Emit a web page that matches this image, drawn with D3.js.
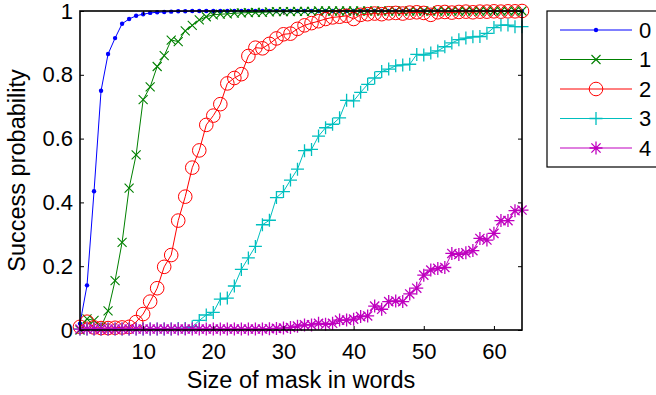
<!DOCTYPE html>
<html>
<head>
<meta charset="utf-8">
<script src="https://cdn.jsdelivr.net/npm/d3@7"></script>
<style>
  body { margin: 0; background: #fff; }
  svg { display: block; font-family: "Liberation Sans", Arial, sans-serif; }
</style>
</head>
<body>
<svg id="chart" width="656" height="395"></svg>
<script>
// mask sizes on the x axis
const maskSizes = d3.range(1, 65);

const seriesNames = ["0", "1", "2", "3", "4"];

const s0 = [0.02, 0.14, 0.435, 0.75, 0.865, 0.915, 0.96, 0.975, 0.985, 0.99,
  0.994, 0.996, 0.997, 0.998, 0.999, 0.999, 1, 1, 1, 1,
  1, 1, 1, 1, 1, 1, 1, 1, 1, 1,
  1, 1, 1, 1, 1, 1, 1, 1, 1, 1,
  1, 1, 1, 1, 1, 1, 1, 1, 1, 1,
  1, 1, 1, 1, 1, 1, 1, 1, 1, 1,
  1, 1, 1, 1];

const s1 = [0.0, 0.035, 0.03, 0.01, 0.06, 0.155, 0.275, 0.445, 0.549, 0.722,
  0.762, 0.826, 0.86, 0.909, 0.904, 0.938, 0.955, 0.972, 0.982, 0.988,
  0.99, 0.991, 0.993, 0.994, 0.995, 0.996, 0.996, 0.997, 0.998, 0.998,
  0.998, 0.999, 0.999, 0.999, 1, 1, 1, 1, 1, 1,
  1, 1, 1, 1, 1, 1, 1, 1, 1, 1,
  1, 1, 1, 1, 1, 1, 1, 1, 1, 1,
  1, 1, 1, 1];

const s2 = [0.01, 0.026, 0.008, 0.006, 0.006, 0.007, 0.008, 0.01, 0.025, 0.05,
  0.089, 0.131, 0.198, 0.235, 0.343, 0.418, 0.509, 0.563, 0.643, 0.672,
  0.708, 0.773, 0.79, 0.802, 0.859, 0.885, 0.883, 0.897, 0.914, 0.927,
  0.929, 0.944, 0.955, 0.962, 0.968, 0.975, 0.98, 0.982, 0.985, 0.975,
  0.988, 0.99, 0.992, 0.99, 0.993, 0.994, 0.992, 0.995, 0.996, 0.994,
  0.988, 0.996, 0.997, 0.995, 0.997, 0.998, 0.996, 0.998, 0.998, 0.999,
  0.998, 0.999, 0.999, 1];

const s3 = [0.003, 0.003, 0.003, 0.003, 0.003, 0.003, 0.003, 0.003, 0.003, 0.003,
  0.003, 0.003, 0.003, 0.003, 0.005, 0.005, 0.01, 0.03, 0.047, 0.055,
  0.097, 0.1, 0.138, 0.19, 0.226, 0.262, 0.33, 0.344, 0.415, 0.434,
  0.47, 0.504, 0.562, 0.566, 0.608, 0.634, 0.645, 0.665, 0.72, 0.718,
  0.745, 0.77, 0.79, 0.81, 0.818, 0.828, 0.831, 0.833, 0.864, 0.862,
  0.868, 0.875, 0.888, 0.9, 0.91, 0.915, 0.919, 0.92, 0.93, 0.948,
  0.956, 0.956, 0.951, 0.951];

const s4 = [0.003, 0.003, 0.003, 0.003, 0.003, 0.003, 0.003, 0.003, 0.003, 0.003,
  0.003, 0.003, 0.003, 0.003, 0.003, 0.003, 0.003, 0.003, 0.003, 0.003,
  0.003, 0.003, 0.003, 0.003, 0.003, 0.003, 0.003, 0.004, 0.005, 0.006,
  0.008, 0.012, 0.016, 0.016, 0.021, 0.018, 0.021, 0.031, 0.031, 0.034,
  0.042, 0.044, 0.075, 0.065, 0.089, 0.091, 0.089, 0.113, 0.131, 0.172,
  0.188, 0.193, 0.196, 0.24, 0.237, 0.242, 0.249, 0.287, 0.282, 0.303,
  0.343, 0.343, 0.374, 0.376];

const xTicks = [10, 20, 30, 40, 50, 60];
const yTicks = [0, 0.2, 0.4, 0.6, 0.8, 1];

const colors = ["#0000ff", "#008000", "#ff0000", "#00bfbf", "#bf00bf"];
const markers = ["dot", "x", "o", "+", "*"];
const allSeries = [s0, s1, s2, s3, s4];

const svg = d3.select("#chart");

const plotLeft = 80, plotRight = 522, plotTop = 11, plotBottom = 330;

const x = d3.scaleLinear().domain([1, 64]).range([plotLeft, plotRight]);
const y = d3.scaleLinear().domain([0, 1]).range([plotBottom, plotTop]);

// draws one marker of the given kind at 0,0 inside g
function drawMarker(g, kind, color) {
  if (kind === "dot") {
    g.append("circle").attr("r", 2.2).attr("fill", color);
  } else if (kind === "x") {
    const h = 4.5;
    g.append("path")
      .attr("d", `M${-h},${-h}L${h},${h}M${-h},${h}L${h},${-h}`)
      .attr("stroke", color).attr("stroke-width", 1.1).attr("fill", "none");
  } else if (kind === "o") {
    g.append("circle").attr("r", 6.8)
      .attr("stroke", color).attr("stroke-width", 1).attr("fill", "none");
  } else if (kind === "+") {
    const h = 6.5;
    g.append("path")
      .attr("d", `M${-h},0H${h}M0,${-h}V${h}`)
      .attr("stroke", color).attr("stroke-width", 1.3).attr("fill", "none");
  } else if (kind === "*") {
    const h = 6.5, d = 4.6;
    g.append("path")
      .attr("d", `M${-h},0H${h}M0,${-h}V${h}M${-d},${-d}L${d},${d}M${-d},${d}L${d},${-d}`)
      .attr("stroke", color).attr("stroke-width", 1.3).attr("fill", "none");
  }
}

const line = d3.line()
  .x((d, i) => x(maskSizes[i]))
  .y(d => y(d));

// series lines and markers
allSeries.forEach((vals, k) => {
  const g = svg.append("g");
  g.append("path")
    .datum(vals)
    .attr("d", line)
    .attr("fill", "none")
    .attr("stroke", colors[k])
    .attr("stroke-width", 1);

  g.selectAll("g.m")
    .data(vals)
    .enter()
    .append("g")
    .attr("class", "m")
    .attr("transform", (d, i) => `translate(${x(maskSizes[i])},${y(d)})`)
    .each(function () { drawMarker(d3.select(this), markers[k], colors[k]); });
});

// axes (ticks pointing inwards)
const fmt = d => String(d);

svg.append("g")
  .attr("transform", `translate(0,${plotBottom})`)
  .call(d3.axisBottom(x).tickValues(xTicks).tickFormat(fmt).tickSize(-4).tickPadding(13));

svg.append("g")
  .attr("transform", `translate(0,${plotTop})`)
  .call(d3.axisTop(x).tickValues(xTicks).tickFormat("").tickSize(-4));

svg.append("g")
  .attr("transform", `translate(${plotLeft},0)`)
  .call(d3.axisLeft(y).tickValues(yTicks).tickFormat(fmt).tickSize(-4).tickPadding(7));

svg.append("g")
  .attr("transform", `translate(${plotRight},0)`)
  .call(d3.axisRight(y).tickValues(yTicks).tickFormat("").tickSize(-4));

svg.selectAll(".domain").remove();
svg.selectAll(".tick line").attr("stroke", "#000").attr("stroke-width", 1);
svg.selectAll(".tick text")
  .attr("fill", "#000")
  .style("font-size", "22px")
  .style("font-family", "'Liberation Sans', Arial, sans-serif");

// box
svg.append("rect")
  .attr("x", plotLeft).attr("y", plotTop)
  .attr("width", plotRight - plotLeft).attr("height", plotBottom - plotTop)
  .attr("fill", "none").attr("stroke", "#000").attr("stroke-width", 1.6);

// axis labels
svg.append("text")
  .attr("x", (plotLeft + plotRight) / 2)
  .attr("y", 388)
  .attr("text-anchor", "middle")
  .style("font-size", "23.5px")
  .text("Size of mask in words");

svg.append("text")
  .attr("transform", `translate(25,${(plotTop + plotBottom) / 2}) rotate(-90)`)
  .attr("text-anchor", "middle")
  .style("font-size", "23.5px")
  .text("Success probability");

// legend
const legend = svg.append("g");
legend.append("rect")
  .attr("x", 547).attr("y", 11)
  .attr("width", 115).attr("height", 156)
  .attr("fill", "#fff").attr("stroke", "#000").attr("stroke-width", 1.2);

const rowY = d3.scaleLinear().domain([0, 4]).range([30, 148]);

seriesNames.forEach((name, k) => {
  const yy = rowY(k);
  legend.append("line")
    .attr("x1", 560).attr("x2", 632)
    .attr("y1", yy).attr("y2", yy)
    .attr("stroke", colors[k]).attr("stroke-width", 1);
  drawMarker(legend.append("g").attr("transform", `translate(596,${yy})`), markers[k], colors[k]);
  legend.append("text")
    .attr("x", 639).attr("y", yy)
    .attr("dy", "0.36em")
    .style("font-size", "22px")
    .text(name);
});
</script>
</body>
</html>
